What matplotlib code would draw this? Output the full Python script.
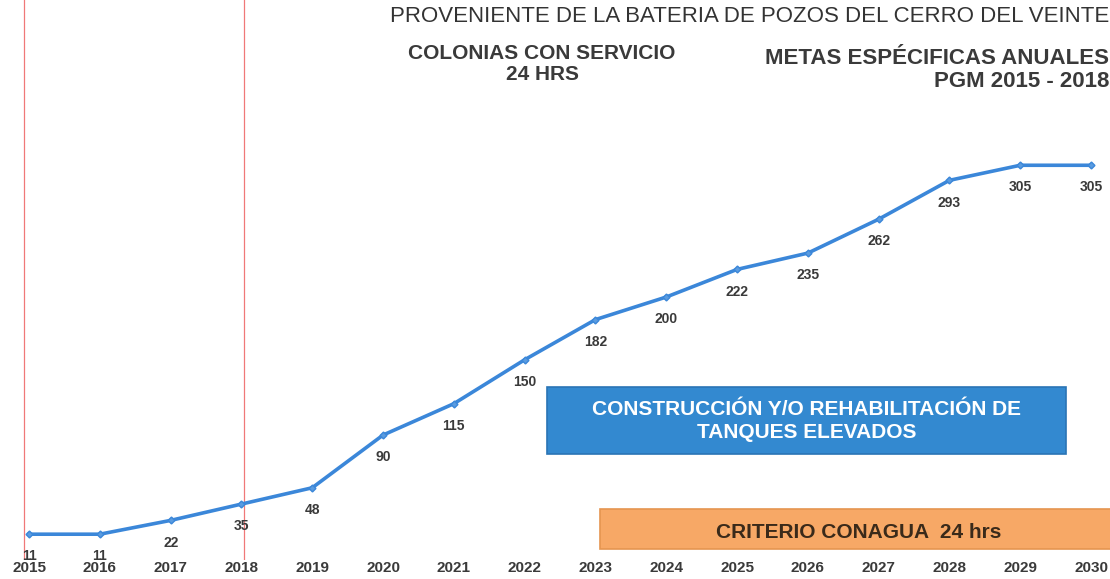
import matplotlib
matplotlib.use("Agg")
import matplotlib.pyplot as plt
from matplotlib.patches import Rectangle

years = [2015, 2016, 2017, 2018, 2019, 2020, 2021, 2022, 2023, 2024, 2025, 2026, 2027, 2028, 2029, 2030]
colonias = [11, 11, 22, 35, 48, 90, 115, 150, 182, 200, 222, 235, 262, 293, 305, 305]
period_marks = [2015, 2018]

title_top = "PROVENIENTE DE LA BATERIA DE POZOS DEL CERRO DEL VEINTE"
title_left = "COLONIAS CON SERVICIO\n24 HRS"
title_right = "METAS ESPÉCIFICAS ANUALES\nPGM 2015 - 2018"
box_blue_text = "CONSTRUCCIÓN Y/O REHABILITACIÓN DE\nTANQUES ELEVADOS"
box_orange_text = "CRITERIO CONAGUA  24 hrs"

W, H = 1110, 579
plt.rcParams['font.family'] = ['Liberation Sans', 'DejaVu Sans']
fig = plt.figure(figsize=(W / 100, H / 100), dpi=100)
fig.patch.set_facecolor('white')

def fx(px):
    return px / W

def fy(py):
    return 1 - py / H

ax = fig.add_axes([0, 19 / H, 1, 1 - 19 / H])
ax.set_xlim(2014.590, 2030.268)
ax.set_ylim(-9.56, 436.7)
for s in ax.spines.values():
    s.set_visible(False)
ax.set_yticks([])
ax.set_xticks(years)
ax.set_xticklabels([str(y) for y in years], fontsize=11, fontweight='bold', color='#3a3a3a')
ax.tick_params(axis='x', length=0, pad=1)

# red vertical markers
ax.axvline(period_marks[0] - 0.07, color='#f07878', lw=0.9, zorder=1)
ax.axvline(period_marks[1] + 0.03, color='#f07878', lw=0.9, zorder=1)

ax.plot(years, colonias, color='#3b87d9', lw=2.6, marker='D', markersize=3.5,
        markerfacecolor='#5a9be0', markeredgecolor='#3b87d9', zorder=3)
for x, v in zip(years, colonias):
    ax.annotate(str(v), (x, v), xytext=(0, -16), textcoords='offset points',
                ha='center', va='center', fontsize=10, fontweight='bold', color='#3a3a3a', zorder=4)

# titles
fig.text(fx(1109), fy(17), title_top, ha='right', va='center', fontsize=16, color='#333333')
fig.text(fx(542), fy(64), title_left, ha='center', va='center', fontsize=15, fontweight='bold',
         color='#3a3a3a', linespacing=1.12)
fig.text(fx(1109), fy(70), title_right, ha='right', va='center', fontsize=16, fontweight='bold',
         color='#3a3a3a', linespacing=1.12, multialignment='right')

# blue box
fig.patches.append(Rectangle((fx(547), fy(454)), fx(1066) - fx(547), fy(387) - fy(454),
                             transform=fig.transFigure, facecolor='#3389d0', edgecolor='#2a74b5',
                             lw=1.2, zorder=5))
fig.text(fx(807), fy(421), box_blue_text, ha='center', va='center', fontsize=15, fontweight='bold',
         color='white', linespacing=1.22, zorder=6)

# orange box
fig.patches.append(Rectangle((fx(600), fy(549)), fx(1112) - fx(600), fy(509) - fy(549),
                             transform=fig.transFigure, facecolor='#f7a866', edgecolor='#e59550',
                             lw=1.2, zorder=5))
fig.text(fx(859), fy(532), box_orange_text, ha='center', va='center', fontsize=15, fontweight='bold',
         color='#3a2a1a', zorder=6)

fig.savefig('out.png', dpi=100)
